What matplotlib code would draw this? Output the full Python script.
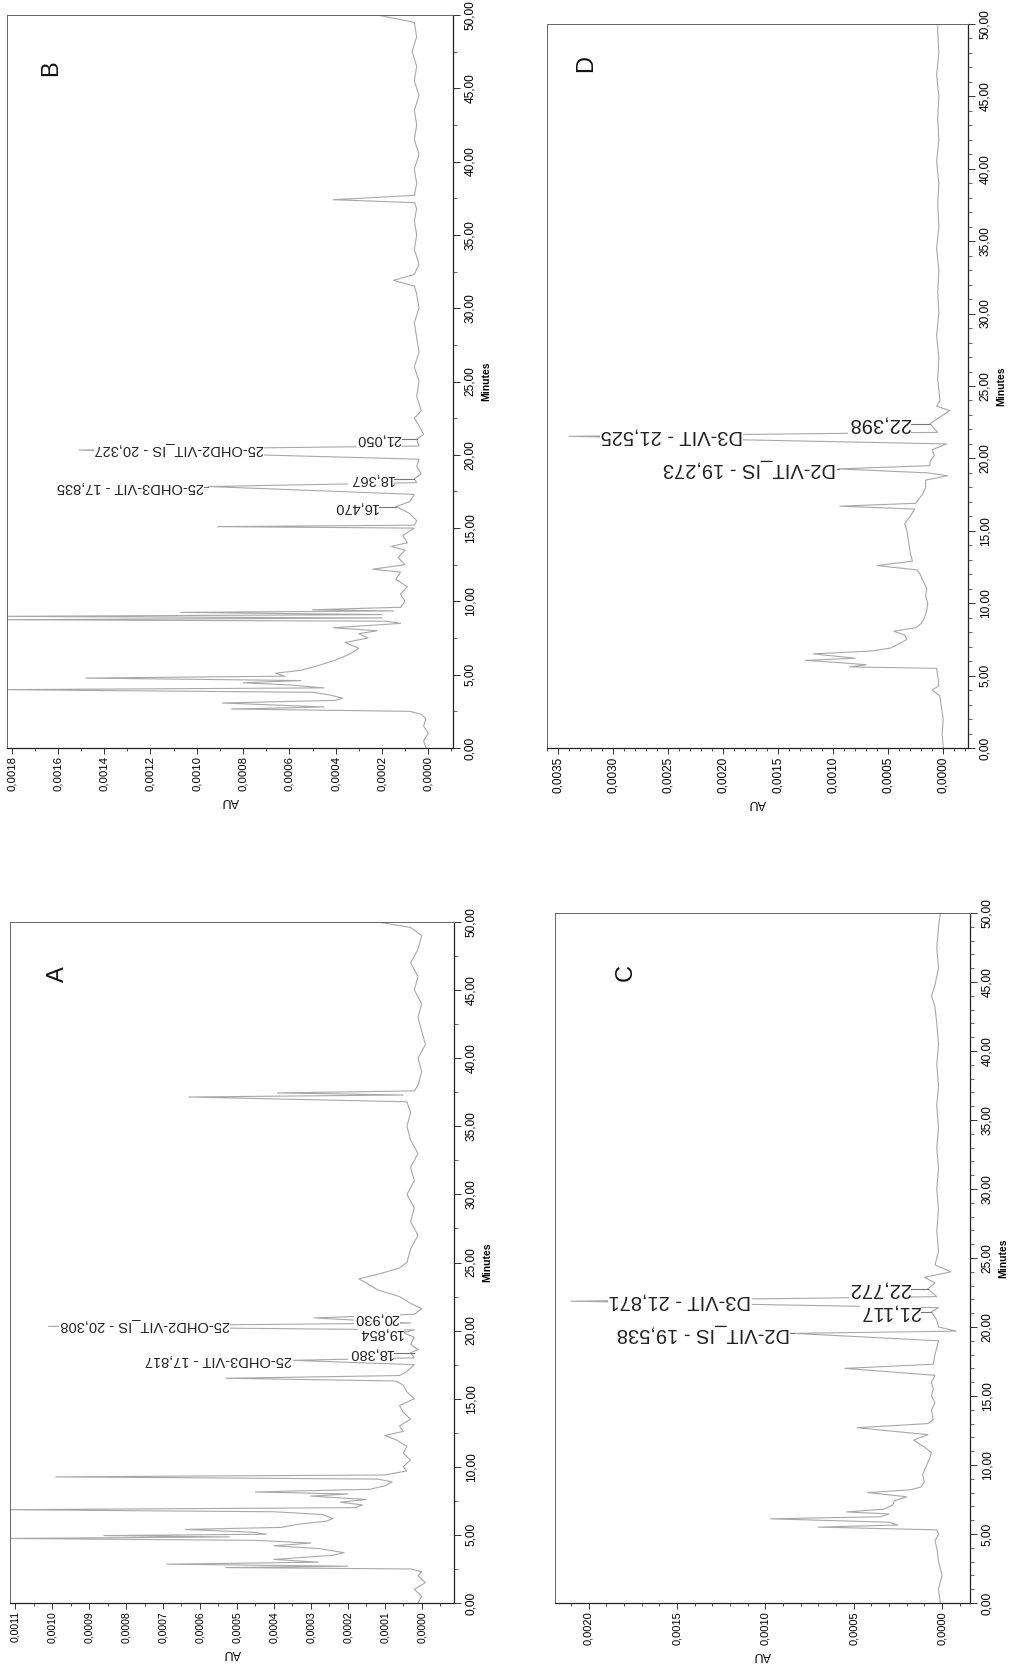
import matplotlib
matplotlib.use('Agg')
import matplotlib.pyplot as plt
from matplotlib.ticker import MultipleLocator, FuncFormatter

plt.rcParams['font.family'] = ['Liberation Sans', 'DejaVu Sans']

## Chromatogram traces: (minutes, AU) ##
A_TRACE = [
    (0.0, 1e-5), (0.5, 0.0), (1.0, 2e-5), (1.5, -1e-5), (2.0, 1e-5), (2.3, 0.0), (2.5, 3e-5),
    (2.6, 5.3e-4), (2.7, 2.0e-4), (2.85, 6.9e-4), (3.0, 2.8e-4), (3.2, 4.0e-4), (3.5, 2.4e-4),
    (3.7, 2.1e-4), (4.0, 2.8e-4), (4.2, 4.0e-4), (4.4, 3.0e-4), (4.6, 4.5e-4), (4.74, 1.13e-3),
    (4.85, 5.2e-4), (4.95, 8.6e-4), (5.05, 4.2e-4), (5.2, 4.6e-4), (5.4, 6.4e-4), (5.55, 3.8e-4),
    (5.8, 3.3e-4), (6.0, 2.6e-4), (6.2, 2.4e-4), (6.5, 2.7e-4), (6.7, 4.0e-4), (6.85, 1.13e-3),
    (7.0, 1.8e-4), (7.2, 1.6e-4), (7.4, 2.2e-4), (7.6, 1.5e-4), (7.85, 3.0e-4), (8.0, 2.0e-4),
    (8.15, 4.5e-4), (8.35, 1.4e-4), (8.6, 1.0e-4), (8.9, 0.8e-4), (9.1, 1.2e-4), (9.26, 9.9e-4),
    (9.4, 1.0e-4), (9.7, 0.4e-4), (10.0, 0.5e-4), (10.5, 0.3e-4), (11.0, 0.5e-4), (11.5, 0.4e-4),
    (12.0, 0.7e-4), (12.3, 1.0e-4), (12.6, 0.5e-4), (13.0, 0.6e-4), (13.5, 0.3e-4), (14.0, 0.5e-4),
    (14.5, 0.6e-4), (15.0, 0.2e-4), (15.5, 0.4e-4), (16.0, 0.5e-4), (16.3, 0.7e-4), (16.5, 5.3e-4),
    (16.7, 0.6e-4), (17.0, 0.4e-4), (17.5, 0.2e-4), (17.817, 3.5e-4), (18.0, 0.2e-4), (18.38, 0.3e-4),
    (18.6, 0.1e-4), (19.0, 0.3e-4), (19.5, 0.2e-4), (19.854, 0.5e-4), (20.05, 0.2e-4),
    (20.308, 1.01e-3), (20.55, 0.3e-4), (20.93, 2.9e-4), (21.2, 0.2e-4), (21.6, 0.0), (22.0, 0.3e-4),
    (22.5, 0.6e-4), (23.0, 1.2e-4), (23.5, 1.5e-4), (23.8, 1.7e-4), (24.2, 1.1e-4), (24.6, 0.6e-4),
    (25.0, 0.4e-4), (26.0, 0.3e-4), (27.0, 0.1e-4), (28.0, 0.3e-4), (29.0, 0.2e-4), (30.0, 0.4e-4),
    (31.0, 0.2e-4), (32.0, 0.3e-4), (33.0, 0.1e-4), (34.0, 0.3e-4), (35.0, 0.4e-4), (36.0, 0.3e-4),
    (36.8, 0.4e-4), (37.15, 6.3e-4), (37.3, 0.5e-4), (37.45, 3.9e-4), (37.6, 0.2e-4), (38.0, 0.1e-4),
    (39.0, 0.0), (40.0, 0.1e-4), (41.0, -0.1e-4), (42.0, 0.0), (43.0, 0.1e-4), (44.0, 0.0),
    (45.0, 0.2e-4), (46.0, 0.1e-4), (47.0, 0.3e-4), (48.0, 0.1e-4), (49.0, 0.0), (49.6, 0.3e-4),
    (50.0, 1.2e-4),
]

B_TRACE = [
    (0.0, 1e-5), (0.5, 2e-5), (1.0, 0.0), (1.5, 2e-5), (2.0, 1e-5), (2.3, 3e-5), (2.5, 8e-5),
    (2.66, 8.5e-4), (2.8, 4.5e-4), (3.07, 8.9e-4), (3.25, 4.0e-4), (3.4, 3.7e-4), (3.6, 4.2e-4),
    (3.8, 5.0e-4), (3.98, 1.85e-3), (4.1, 4.5e-4), (4.3, 6.0e-4), (4.45, 8.0e-4), (4.6, 5.5e-4),
    (4.77, 1.48e-3), (4.9, 6.2e-4), (5.1, 6.6e-4), (5.3, 5.5e-4), (5.6, 4.8e-4), (6.0, 4.0e-4),
    (6.4, 3.4e-4), (6.8, 3.0e-4), (7.2, 3.6e-4), (7.5, 2.6e-4), (7.8, 3.0e-4), (8.0, 2.2e-4),
    (8.2, 4.1e-4), (8.5, 1.2e-4), (8.65, 1.8e-4), (8.75, 1.85e-3), (8.87, 2.0e-4), (8.98, 1.85e-3),
    (9.1, 2.0e-4), (9.25, 1.07e-3), (9.35, 1.5e-4), (9.43, 5.0e-4), (9.6, 1.2e-4), (10.0, 1.0e-4),
    (10.5, 1.2e-4), (11.0, 0.9e-4), (11.5, 1.4e-4), (12.0, 1.2e-4), (12.2, 2.4e-4), (12.5, 1.0e-4),
    (13.0, 1.3e-4), (13.5, 1.0e-4), (13.75, 1.6e-4), (14.0, 0.9e-4), (14.5, 1.1e-4), (15.0, 0.6e-4),
    (15.1, 9.1e-4), (15.2, 0.6e-4), (15.5, 0.5e-4), (16.0, 0.8e-4), (16.47, 1.4e-4), (16.8, 0.8e-4),
    (17.3, 0.6e-4), (17.835, 9.5e-4), (18.1, 0.5e-4), (18.367, 0.6e-4), (18.7, 0.3e-4),
    (19.2, 0.5e-4), (19.7, 0.4e-4), (20.327, 1.51e-3), (20.6, 0.4e-4), (21.05, 0.5e-4),
    (21.4, 0.2e-4), (22.0, 0.4e-4), (22.5, 0.6e-4), (23.0, 0.3e-4), (24.0, 0.5e-4), (25.0, 0.4e-4),
    (26.0, 0.6e-4), (27.0, 0.4e-4), (28.0, 0.5e-4), (29.0, 0.6e-4), (30.0, 0.4e-4), (31.0, 0.5e-4),
    (31.5, 0.6e-4), (31.9, 1.5e-4), (32.3, 0.6e-4), (33.0, 0.4e-4), (34.0, 0.6e-4), (35.0, 0.5e-4),
    (36.0, 0.6e-4), (36.8, 0.5e-4), (37.2, 0.6e-4), (37.4, 4.1e-4), (37.7, 0.6e-4), (38.5, 0.5e-4),
    (39.5, 0.6e-4), (40.5, 0.4e-4), (41.5, 0.6e-4), (42.5, 0.5e-4), (43.5, 0.6e-4), (44.5, 0.4e-4),
    (45.5, 0.6e-4), (46.5, 0.5e-4), (47.5, 0.7e-4), (48.5, 0.5e-4), (49.5, 0.6e-4), (50.0, 2.2e-4),
]

C_TRACE = [
    (0.0, 1e-5), (1.0, 2e-5), (2.0, 0.0), (3.0, 2e-5), (4.0, 3e-5), (4.5, 4e-5), (5.0, 2e-5),
    (5.3, 3e-5), (5.5, 7.0e-4), (5.65, 2.5e-4), (5.85, 3.0e-4), (6.1, 9.7e-4), (6.25, 3.5e-4),
    (6.45, 3.0e-4), (6.6, 5.4e-4), (6.8, 3.3e-4), (7.1, 2.8e-4), (7.4, 2.7e-4), (7.7, 2.0e-4),
    (8.0, 4.2e-4), (8.2, 1.8e-4), (8.4, 1.2e-4), (8.8, 1.0e-4), (9.3, 1.1e-4), (9.9, 0.9e-4),
    (10.5, 0.7e-4), (10.9, 0.6e-4), (11.3, 1.0e-4), (11.8, 1.6e-4), (12.2, 0.8e-4), (12.7, 4.8e-4),
    (13.0, 0.8e-4), (13.3, 0.5e-4), (14.0, 0.6e-4), (14.5, 0.4e-4), (15.0, 0.6e-4), (15.5, 0.5e-4),
    (16.0, 0.6e-4), (16.5, 0.4e-4), (17.0, 5.5e-4), (17.3, 0.5e-4), (18.0, 0.4e-4), (18.5, 0.3e-4),
    (19.0, 0.2e-4), (19.538, 8.4e-4), (19.7, -0.8e-4), (20.0, 0.2e-4), (20.5, 0.3e-4),
    (21.117, 0.6e-4), (21.4, 0.2e-4), (21.871, 2.10e-3), (22.2, 0.3e-4), (22.772, 0.8e-4),
    (23.2, 0.4e-4), (23.6, 1.0e-4), (24.0, -0.5e-4), (24.5, 0.4e-4), (25.5, 0.2e-4), (27.0, 0.3e-4),
    (28.5, 0.2e-4), (30.0, 0.3e-4), (31.5, 0.2e-4), (33.0, 0.3e-4), (34.5, 0.2e-4), (36.0, 0.3e-4),
    (37.5, 0.2e-4), (39.0, 0.3e-4), (40.5, 0.2e-4), (42.0, 0.3e-4), (43.2, 0.4e-4), (44.0, 0.6e-4),
    (44.8, 0.4e-4), (46.0, 0.2e-4), (47.5, 0.3e-4), (49.0, 0.2e-4), (50.0, 0.1e-4),
]

D_TRACE = [
    (0.0, 0.0), (1.0, 1e-5), (2.0, 0.0), (3.0, 2e-5), (3.6, 3e-5), (4.0, 1.0e-4), (4.3, 0.4e-4),
    (5.0, 0.5e-4), (5.5, 0.6e-4), (5.6, 8.5e-4), (5.75, 7.0e-4), (5.9, 9.5e-4), (6.05, 1.25e-3),
    (6.2, 8.0e-4), (6.5, 1.18e-3), (6.7, 6.5e-4), (6.9, 4.8e-4), (7.2, 4.0e-4), (7.5, 3.3e-4),
    (7.8, 3.5e-4), (8.07, 4.5e-4), (8.3, 2.5e-4), (8.6, 2.0e-4), (9.0, 1.7e-4), (9.5, 1.5e-4),
    (10.0, 1.4e-4), (10.5, 1.6e-4), (11.0, 1.5e-4), (11.5, 1.8e-4), (12.0, 2.1e-4), (12.3, 2.4e-4),
    (12.6, 6.0e-4), (12.9, 2.8e-4), (13.5, 3.0e-4), (14.0, 3.1e-4), (14.5, 3.2e-4), (15.0, 3.3e-4),
    (15.5, 3.5e-4), (16.0, 3.0e-4), (16.5, 2.6e-4), (16.7, 9.4e-4), (16.9, 2.5e-4), (17.5, 1.9e-4),
    (18.0, 1.6e-4), (18.5, 1.6e-4), (18.8, -0.4e-4), (19.0, 1.4e-4), (19.273, 9.5e-4),
    (19.5, 1.2e-4), (19.8, 1.2e-4), (20.2, 0.8e-4), (20.6, 1.0e-4), (21.0, -0.3e-4),
    (21.525, 3.40e-3), (21.8, 0.5e-4), (22.398, 1.2e-4), (22.8, 0.4e-4), (23.3, -0.6e-4),
    (23.6, 0.6e-4), (24.0, 0.3e-4), (25.5, 0.5e-4), (27.0, 0.4e-4), (28.5, 0.6e-4), (30.0, 0.4e-4),
    (31.5, 0.5e-4), (33.0, 0.4e-4), (34.5, 0.6e-4), (36.0, 0.4e-4), (37.5, 0.5e-4), (39.0, 0.4e-4),
    (40.5, 0.6e-4), (42.0, 0.4e-4), (43.5, 0.5e-4), (45.0, 0.4e-4), (46.5, 0.6e-4), (48.0, 0.4e-4),
    (49.5, 0.5e-4), (50.0, 0.5e-4),
]

## Peak labels: (text, retention time, AU where label starts, peak apex AU) ##
A_LABELS = [
    ("25-OHD3-VIT - 17,817", 17.817, 3.5e-4, 3.5e-4),
    ("18,380", 18.380, 0.77e-4, 0.22e-4),
    ("19,854", 19.854, 0.5e-4, 0.5e-4),
    ("25-OHD2-VIT_IS - 20,308", 20.308, 5.2e-4, 1.01e-3),
    ("20,930", 20.930, 0.6e-4, 2.9e-4),
]
B_LABELS = [
    ("16,470", 16.470, 2.16e-4, 1.4e-4),
    ("25-OHD3-VIT - 17,835", 17.835, 9.7e-4, 9.5e-4),
    ("18,367", 18.367, 1.5e-4, 0.6e-4),
    ("25-OHD2-VIT_IS - 20,327", 20.327, 7.1e-4, 1.51e-3),
    ("21,050", 21.050, 1.15e-4, 0.5e-4),
]
C_LABELS = [
    ("D2-VIT_IS - 19,538", 19.538, 8.6e-4, 8.4e-4),
    ("21,117", 21.117, 1.23e-4, 0.6e-4),
    ("D3-VIT - 21,871", 21.871, 1.08e-3, 2.10e-3),
    ("22,772", 22.772, 1.8e-4, 0.8e-4),
]
D_LABELS = [
    ("D2-VIT_IS - 19,273", 19.273, 9.7e-4, 9.5e-4),
    ("D3-VIT - 21,525", 21.525, 1.82e-3, 3.40e-3),
    ("22,398", 22.398, 3.0e-4, 1.2e-4),
]

W, H = 1026, 1668
fig = plt.figure(figsize=(W / 100, H / 100), dpi=100)


def au_fmt(v, pos):
    if abs(v) < 1e-9:
        v = 0.0
    return f"{v:.4f}".replace('.', ',')


def min_fmt(v, pos):
    return f"{v:.2f}".replace('.', ',')


def panel(box, trace, labels, letter, letter_xy, au_lim, au_major, au_minor,
          min_minor, tick_fs, peak_fs):
    l, r, t, b = box
    ax = fig.add_axes([l / W, 1 - b / H, (r - l) / W, (b - t) / H])
    mins = [p[0] for p in trace]
    aus = [p[1] for p in trace]
    ax.plot(aus, mins, color='#a8a8a8', lw=0.8)
    ax.set_xlim(*au_lim)
    ax.set_ylim(0, 50)

    # leader lines from small peaks to their labels
    for txt, rt, start, apex in labels:
        if start > apex:
            ax.plot([apex, start], [rt, rt], color='#777777', lw=0.8)
        ax.text(start, rt, txt, rotation=180, rotation_mode='anchor', ha='left',
                va='center', fontsize=peak_fs, color='#222222',
                bbox=dict(fc='white', ec='none', pad=0.3))

    ax.xaxis.set_major_locator(MultipleLocator(au_major))
    ax.xaxis.set_minor_locator(MultipleLocator(au_minor))
    ax.xaxis.set_major_formatter(FuncFormatter(au_fmt))
    ax.yaxis.set_major_locator(MultipleLocator(5))
    ax.yaxis.set_minor_locator(MultipleLocator(min_minor))
    ax.yaxis.set_major_formatter(FuncFormatter(min_fmt))
    ax.yaxis.tick_right()
    ax.yaxis.set_label_position('right')

    ax.tick_params(axis='x', which='major', direction='out', length=4, width=0.7,
                   labelsize=tick_fs, labelrotation=90, pad=2, color='#333333')
    ax.tick_params(axis='x', which='minor', direction='out', length=2, width=0.6,
                   color='#333333')
    ax.tick_params(axis='y', which='major', direction='out', length=5, width=0.7,
                   labelsize=8.6, labelrotation=90, pad=3, color='#333333')
    ax.tick_params(axis='y', which='minor', direction='out', length=3, width=0.6,
                   color='#555555')
    for lab in ax.get_yticklabels():
        lab.set_verticalalignment('center')

    ax.set_xlabel('AU', rotation=180, fontsize=9, labelpad=3)
    ax.set_ylabel('Minutes', rotation=90, fontsize=7.5, fontweight='bold', labelpad=4)

    for side in ['left', 'top']:
        ax.spines[side].set_color('#666666')
        ax.spines[side].set_linewidth(0.7)
    for side in ['bottom', 'right']:
        ax.spines[side].set_color('#222222')
        ax.spines[side].set_linewidth(0.9)

    fig.text(letter_xy[0] / W, 1 - letter_xy[1] / H, letter, rotation=90,
             ha='center', va='center', fontsize=17, color='#111111')
    return ax


panel((7, 453, 15, 748), B_TRACE, B_LABELS, 'B', (51, 68),
      (1.82e-3, -1.07e-4), 2e-4, 1e-4, 2.5, 8.2, 10.5)
panel((10, 454, 922, 1603), A_TRACE, A_LABELS, 'A', (58, 974),
      (1.114e-3, -0.874e-4), 1e-4, 0.5e-4, 2.5, 7.6, 10.5)
panel((547, 968, 24, 748), D_TRACE, D_LABELS, 'D', (586, 63),
      (3.6e-3, -2.25e-4), 5e-4, 1e-4, 1, 8.5, 14.5)
panel((555, 970, 913, 1603), C_TRACE, C_LABELS, 'C', (626, 972),
      (2.19e-3, -1.58e-4), 5e-4, 1e-4, 1, 8, 14.5)

plt.savefig('out.png', dpi=100)
